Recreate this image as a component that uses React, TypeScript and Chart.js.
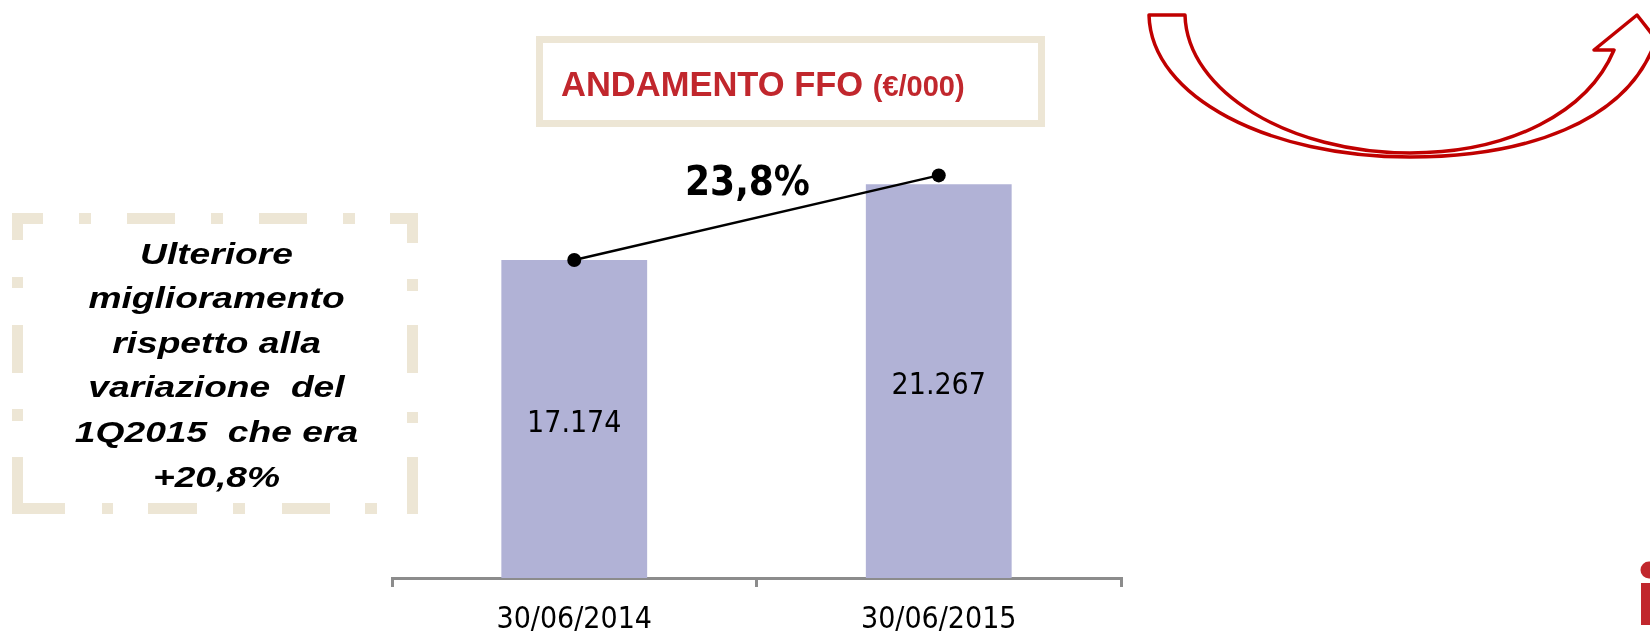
import React, { useEffect, useRef } from "react";
import { Chart, registerables } from "chart.js";

Chart.register(...registerables);

// ---------- data ----------
const categories = ["30/06/2014", "30/06/2015"];
const ffoValues = [17174, 21267];
const trendValues = [17174, 21740];
const growthLabel = "23,8%";
const yMin = 0;
const yMax = 25000;
const titleMain = "ANDAMENTO FFO";
const titleUnit = "(€/000)";
const noteLines = [
  "Ulteriore",
  "miglioramento",
  "rispetto alla",
  "variazione  del",
  "1Q2015  che era",
  "+20,8%",
];

// ---------- styles ----------
const W = 1650;
const H = 633;
const CANVAS_H = 653;
const BAR_COLOR = "#B1B2D6";
const AXIS_COLOR = "#8C8C8C";
const BEIGE = "#EDE6D5";
const RED = "#C1272D";
const ARROW_RED = "#C00000";
const NARROW_FONT = "'DejaVu Sans Condensed', 'Liberation Sans Narrow', 'DejaVu Sans', sans-serif";
const ARIAL = "'Liberation Sans', Arial, sans-serif";

function formatIt(v: number): string {
  return Math.round(v)
    .toString()
    .replace(/\B(?=(\d{3})+(?!\d))/g, ".");
}

const barLabelPlugin = {
  id: "barLabels",
  afterDatasetsDraw(chart: any) {
    const idx = chart.data.datasets.findIndex((d: any) => d.type === "bar");
    const meta = chart.getDatasetMeta(idx);
    const ctx = chart.ctx;
    ctx.save();
    ctx.font = `30px ${NARROW_FONT}`;
    ctx.fillStyle = "#000";
    ctx.textAlign = "center";
    ctx.textBaseline = "middle";
    meta.data.forEach((bar: any, i: number) => {
      const { x, y, base } = bar.getProps(["x", "y", "base"], true);
      ctx.fillText(formatIt(ffoValues[i]), x, (y + base) / 2 + 5);
    });
    ctx.restore();
  },
};

function FfoChart() {
  const ref = useRef<HTMLCanvasElement | null>(null);
  useEffect(() => {
    if (!ref.current) return;
    const chart = new Chart(ref.current, {
      type: "bar",
      data: {
        labels: categories,
        datasets: [
          {
            type: "line",
            data: trendValues,
            borderColor: "#000",
            borderWidth: 2.5,
            pointRadius: 7,
            pointBackgroundColor: "#000",
            pointBorderColor: "#000",
            pointBorderWidth: 0,
            tension: 0,
            order: 0,
          } as any,
          {
            type: "bar",
            data: ffoValues,
            backgroundColor: BAR_COLOR,
            borderWidth: 0,
            barPercentage: 0.4,
            categoryPercentage: 1.0,
            order: 1,
          } as any,
        ],
      },
      options: {
        responsive: false,
        animation: false,
        devicePixelRatio: 1,
        layout: { padding: { left: 392, right: 529, top: 115, bottom: 0 } },
        plugins: { legend: { display: false }, tooltip: { enabled: false } },
        scales: {
          x: {
            type: "category",
            offset: true,
            grid: {
              display: true,
              offset: true,
              drawOnChartArea: false,
              drawTicks: true,
              tickLength: 9,
              color: AXIS_COLOR,
              lineWidth: 3,
            },
            border: { display: true, color: AXIS_COLOR, width: 3 },
            ticks: {
              color: "#000",
              padding: 21,
              maxRotation: 0,
              autoSkip: false,
              font: { family: NARROW_FONT, size: 30, lineHeight: 0.8 },
            },
          },
          y: { display: false, min: yMin, max: yMax },
        },
      },
      plugins: [barLabelPlugin],
    } as any);
    return () => chart.destroy();
  }, []);
  return (
    <canvas
      ref={ref}
      width={W}
      height={CANVAS_H}
      style={{ position: "absolute", left: 0, top: 0, width: W, height: CANVAS_H }}
    />
  );
}

function Overlay() {
  const noteBaselines = [264, 308, 353, 397, 442, 487];
  return (
    <svg
      width={W}
      height={H}
      style={{ position: "absolute", left: 0, top: 0, pointerEvents: "none" }}
    >
      {/* Title box */}
      <rect x={539.5} y={39.5} width={502} height={84} fill="none" stroke={BEIGE} strokeWidth={7} />
      <text x={561} y={96} fill={RED} fontFamily={ARIAL} fontWeight="bold">
        <tspan fontSize={34.5}>{titleMain + " "}</tspan>
        <tspan fontSize={29}>{titleUnit}</tspan>
      </text>

      {/* Dashed note box */}
      <g stroke={BEIGE} strokeWidth={11} fill="none">
        <line x1={12} y1={218.5} x2={418} y2={218.5} strokeDasharray="31 36 12 36 48 36 12 36 48 36 12 35 28" />
        <line x1={17.5} y1={213} x2={17.5} y2={514} strokeDasharray="27 37 11 37 48 36 12 36 57" />
        <line x1={12} y1={508.5} x2={418} y2={508.5} strokeDasharray="53 37 11 35 49 36 12 37 48 35 12 30 11" />
        <line x1={412.5} y1={213} x2={412.5} y2={514} strokeDasharray="30 36 12 34 48 39 11 34 57" />
      </g>
      <g transform="translate(216.5 0) scale(1.24 1)">
        {noteLines.map((t, i) => (
          <text
            key={i}
            x={0}
            y={noteBaselines[i]}
            textAnchor="middle"
            fontFamily={ARIAL}
            fontWeight="bold"
            fontStyle="italic"
            fontSize={30}
            fill="#000"
            style={{ whiteSpace: "pre" }}
          >
            {t}
          </text>
        ))}
      </g>

      {/* Growth label */}
      <text
        x={747.5}
        y={195}
        textAnchor="middle"
        fontFamily={NARROW_FONT}
        fontWeight="bold"
        fontSize={40}
        fill="#000"
      >
        {growthLabel}
      </text>

      {/* Curved arrow */}
      <path
        d="M 1149 15 L 1185 15 C 1187 92, 1290 153, 1410 153 C 1510 153, 1588 112, 1614 50 L 1594 50 L 1637 15 L 1666 52 L 1652 50 C 1622 120, 1530 157, 1410 157 C 1270 157, 1151 98, 1149 15 Z"
        fill="none"
        stroke={ARROW_RED}
        strokeWidth={3.5}
        strokeLinejoin="round"
      />

      {/* Logo fragment */}
      <circle cx={1649} cy={570} r={8.5} fill={RED} />
      <rect x={1641} y={583} width={12} height={42} fill={RED} />
    </svg>
  );
}

export default function App() {
  return (
    <div
      style={{
        position: "absolute",
        left: 0,
        top: 0,
        width: W,
        height: H,
        overflow: "hidden",
        background: "#fff",
      }}
    >
      <FfoChart />
      <Overlay />
    </div>
  );
}
